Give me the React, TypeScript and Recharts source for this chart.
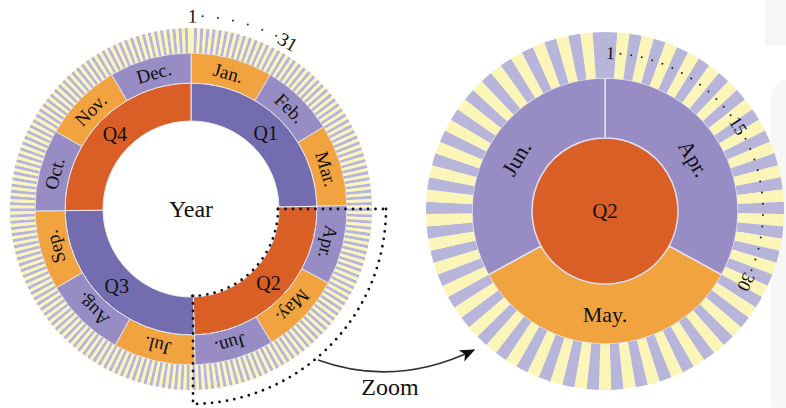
import { PieChart, Pie, Cell } from "recharts";

const W = 786;
const H = 408;
const FONT = '"Liberation Serif", "DejaVu Serif", serif';
const RAD = Math.PI / 180;

// data
const quarters = ["Q1", "Q2", "Q3", "Q4"];
const months = ["Jan.", "Feb.", "Mar.", "Apr.", "May.", "Jun.", "Jul.", "Aug.", "Sep.", "Oct.", "Nov.", "Dec."];
const monthDays = [31, 28, 31, 30, 31, 30, 31, 31, 30, 31, 30, 31];
const zoomedQuarter = 1; // Q2
const yearLabel = "Year";
const zoomLabel = "Zoom";
const yearDayTicks = ["1", "31"];
const zoomDayTicks = ["1", "15", "30"];

const quarterColors = ["#736db0", "#d95f26", "#736db0", "#d95f26"];
const monthColors = ["#f0a33f", "#978dc4"];
const dayColors = ["#fbf5b8", "#b8b5db"];

const quarterData = quarters.map((q, i) => ({
  name: q,
  value: monthDays.slice(i * 3, i * 3 + 3).reduce((a, b) => a + b, 0),
}));
const monthData = months.map((m, i) => ({ name: m, value: monthDays[i] }));
const dayData = monthDays.flatMap((n, m) =>
  Array.from({ length: n }, (_, d) => ({ name: `${months[m]} ${d + 1}`, value: 1, month: m }))
);

const zoomMonths = monthData.slice(zoomedQuarter * 3, zoomedQuarter * 3 + 3);
const zoomDays = dayData.filter((d) => Math.floor(d.month / 3) === zoomedQuarter);

const left = { cx: 191, cy: 209, q: [88, 126], m: [126, 156], d: [156, 181] };
const right = { cx: 605, cy: 211, q: [0, 73], m: [73, 133], d: [133, 179] };

function polar(cx: number, cy: number, r: number, theta: number) {
  // theta: degrees clockwise from 12 o'clock
  return [cx + r * Math.sin(theta * RAD), cy - r * Math.cos(theta * RAD)];
}

function ringLabel(fontSize: number, mode: "tangent" | "flip" | "flat" | "center") {
  return (props: any) => {
    const { cx, cy, midAngle, innerRadius, outerRadius } = props;
    const name = props.name ?? props.payload?.name;
    let x = cx;
    let y = cy;
    let rot = 0;
    if (mode !== "center") {
      const r = (innerRadius + outerRadius) / 2;
      x = cx + r * Math.cos(-midAngle * RAD);
      y = cy + r * Math.sin(-midAngle * RAD);
      rot = (((90 - midAngle) % 360) + 360) % 360;
      if (mode === "flip" && rot > 90 && rot < 270) rot -= 180;
      if (mode === "flat") rot = 0;
    }
    return (
      <text
        x={x}
        y={y}
        transform={`rotate(${rot} ${x} ${y})`}
        textAnchor="middle"
        dominantBaseline="central"
        fontSize={fontSize}
        fontFamily={FONT}
        fill="#111"
      >
        {name}
      </text>
    );
  };
}

function DayTicks({ cx, cy, r, days, ticks, perDay, fontSize }: any) {
  // ticks at the given day numbers, dots between
  const step = 360 / days;
  const tickDays = ticks.map((t: string) => Number(t));
  const out: any[] = [];
  tickDays.forEach((d: number, i: number) => {
    const th = (d - 0.5) * step;
    const [x, y] = polar(cx, cy, r, th);
    out.push(
      <text key={`t${i}`} x={x} y={y} transform={`rotate(${th} ${x} ${y})`} textAnchor="middle"
        dominantBaseline="central" fontSize={fontSize} fontFamily={FONT} fill="#111">
        {ticks[i]}
      </text>
    );
    if (i < tickDays.length - 1) {
      const a0 = th + (ticks[i].length * 5 + 5) / (r * RAD);
      const a1 = (tickDays[i + 1] - 0.5) * step - (ticks[i + 1].length * 5 + 3) / (r * RAD);
      const n = Math.max(2, Math.round((a1 - a0) / perDay));
      for (let k = 0; k <= n; k++) {
        const [dx, dy] = polar(cx, cy, r, a0 + ((a1 - a0) * k) / n);
        out.push(<circle key={`d${i}-${k}`} cx={dx} cy={dy} r={1} fill="#222" />);
      }
    }
  });
  return <g>{out}</g>;
}

export default function App() {
  const [ax, ay] = polar(left.cx, left.cy, 195, 90);
  const [bx, by] = polar(left.cx, left.cy, 195, 180);
  const [ix, iy] = polar(left.cx, left.cy, 87, 90);
  const [jx, jy] = polar(left.cx, left.cy, 87, 180);
  return (
    <div style={{ position: "absolute", left: 0, top: 0, width: W, height: H, background: "#fff" }}>
      <svg width={W} height={H} style={{ position: "absolute", left: 0, top: 0 }}>
        <rect x={765} y={0} width={30} height={46} fill="#f6f6f6" />
        <rect x={771} y={80} width={30} height={340} rx={18} fill="#f7f7f7" />
      </svg>
      <div style={{ position: "absolute", left: 0, top: 0 }}>
        <PieChart width={W} height={H} margin={{ top: 0, right: 0, bottom: 0, left: 0 }}>
          <Pie data={quarterData} dataKey="value" nameKey="name" cx={left.cx} cy={left.cy}
            innerRadius={left.q[0]} outerRadius={left.q[1]} startAngle={90} endAngle={-270}
            stroke="#eeeaf6" strokeWidth={1} label={ringLabel(20, "flat")} labelLine={false}
            isAnimationActive={false}>
            {quarterData.map((d, i) => <Cell key={d.name} fill={quarterColors[i]} />)}
          </Pie>
          <Pie data={monthData} dataKey="value" nameKey="name" cx={left.cx} cy={left.cy}
            innerRadius={left.m[0]} outerRadius={left.m[1]} startAngle={90} endAngle={-270}
            stroke="#e4e0f0" strokeWidth={1} label={ringLabel(19, "tangent")} labelLine={false}
            isAnimationActive={false}>
            {monthData.map((d, i) => <Cell key={d.name} fill={monthColors[i % 2]} />)}
          </Pie>
          <Pie data={dayData} dataKey="value" nameKey="name" cx={left.cx} cy={left.cy}
            innerRadius={left.d[0]} outerRadius={left.d[1]} startAngle={90} endAngle={-270}
            stroke="none" isAnimationActive={false}>
            {dayData.map((d, i) => <Cell key={d.name} fill={dayColors[i % 2]} />)}
          </Pie>

          <Pie data={[quarterData[zoomedQuarter]]} dataKey="value" nameKey="name" cx={right.cx} cy={right.cy}
            innerRadius={right.q[0]} outerRadius={right.q[1]} startAngle={90} endAngle={-270}
            stroke="none" label={ringLabel(21, "center")} labelLine={false}
            isAnimationActive={false}>
            <Cell fill={quarterColors[zoomedQuarter]} />
          </Pie>
          <Pie data={zoomMonths} dataKey="value" nameKey="name" cx={right.cx} cy={right.cy}
            innerRadius={right.m[0]} outerRadius={right.m[1]} startAngle={90} endAngle={-270}
            stroke="#e4e0f0" strokeWidth={1.5} label={ringLabel(22, "flip")} labelLine={false}
            isAnimationActive={false}>
            {zoomMonths.map((d, i) => <Cell key={d.name} fill={monthColors[(i + 1) % 2]} />)}
          </Pie>
          <Pie data={zoomDays} dataKey="value" nameKey="name" cx={right.cx} cy={right.cy}
            innerRadius={right.d[0]} outerRadius={right.d[1]} startAngle={90} endAngle={-270}
            stroke="none" isAnimationActive={false}>
            {zoomDays.map((d, i) => <Cell key={d.name} fill={dayColors[(i + 1) % 2]} />)}
          </Pie>
        </PieChart>
      </div>
      <svg width={W} height={H} style={{ position: "absolute", left: 0, top: 0, pointerEvents: "none" }}>
        <defs>
          <marker id="head" viewBox="0 0 12 10" refX={11} refY={5} markerWidth={15} markerHeight={13}
            markerUnits="userSpaceOnUse" orient="auto">
            <path d="M0,0 L12,5 L0,10 L3,5 z" fill="#111" />
          </marker>
        </defs>
        <text x={left.cx} y={left.cy} textAnchor="middle" dominantBaseline="central" fontSize={24}
          fontFamily={FONT} fill="#111">{yearLabel}</text>

        <DayTicks cx={left.cx} cy={left.cy} r={193} days={365} ticks={yearDayTicks} perDay={4.2} fontSize={19} />
        <DayTicks cx={right.cx} cy={right.cy} r={158} days={zoomDays.length} ticks={zoomDayTicks} perDay={3.96} fontSize={18} />

        <g stroke="#111" strokeWidth={2.8} strokeLinecap="round" strokeDasharray="0 7.5" fill="none">
          <line x1={ix} y1={iy} x2={ax + 2} y2={ay} />
          <path d={`M ${ix} ${iy} A 87 87 0 0 1 ${jx} ${jy}`} />
          <path d={`M ${ax} ${ay} A 195 195 0 0 1 ${bx} ${by}`} />
          <line x1={jx + 2} y1={jy} x2={jx + 2} y2={H} />
        </g>

        <path d="M 318 360 Q 395 388 474 350" stroke="#333" strokeWidth={1.6} fill="none" markerEnd="url(#head)" />
        <text x={390} y={395} textAnchor="middle" fontSize={24} fontFamily={FONT} fill="#111">{zoomLabel}</text>
      </svg>
    </div>
  );
}
